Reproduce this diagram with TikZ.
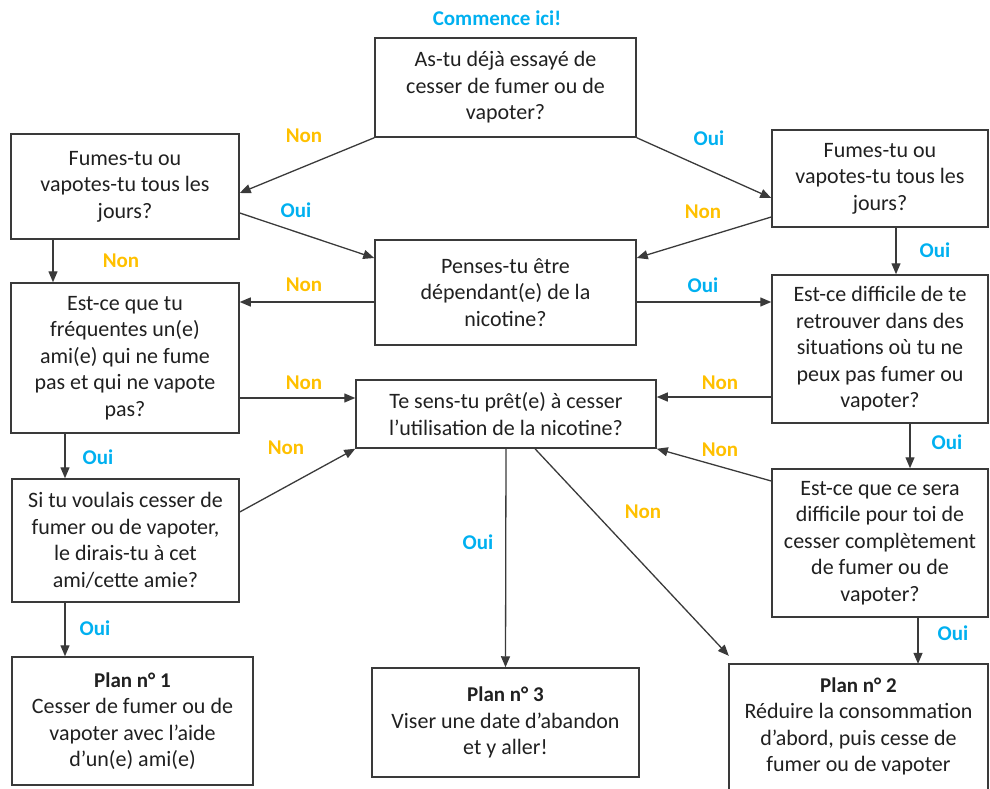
\documentclass[tikz,border=0pt]{standalone}
\usepackage{fontspec}
\setmainfont{Carlito}
\usetikzlibrary{arrows.meta,calc}
\definecolor{ouiblue}{HTML}{00B0F0}
\definecolor{nongold}{HTML}{FFC000}
\definecolor{edgecol}{HTML}{3A3A3A}
\definecolor{txtcol}{HTML}{202020}
\begin{document}
\begin{tikzpicture}[x=1pt,y=-1pt,
  box/.style={draw=edgecol, line width=1.5pt, align=center, inner sep=0pt,
    font=\fontsize{22}{26.5}\selectfont, text=txtcol},
  openbox/.style={align=center, inner sep=0pt,
    font=\fontsize{22}{26.5}\selectfont, text=txtcol},
  conn/.style={draw=edgecol, line width=1.3pt, -{Triangle[length=11pt,width=9pt]}},
  oui/.style={font=\bfseries\fontsize{21}{22}\selectfont, text=ouiblue, inner sep=0pt},
  non/.style={font=\bfseries\fontsize{21}{22}\selectfont, text=nongold, inner sep=0pt}]
\useasboundingbox (0,0) rectangle (990,789);

% boxes
\node[box, minimum width=261pt, minimum height=99pt] (q1) at (505.5,87.5)
  {As-tu déjà essayé de\\cesser de fumer ou de\\vapoter?};
\node[oui, font=\bfseries\fontsize{21}{22}\selectfont] (start) at (497,18) {Commence ici!};
\node[box, minimum width=228pt, minimum height=105pt] (l1) at (125,186.5)
  {Fumes-tu ou\\vapotes-tu tous les\\jours?};
\node[box, minimum width=216pt, minimum height=97pt] (r1) at (880,178.5)
  {Fumes-tu ou\\vapotes-tu tous les\\jours?};
\node[box, minimum width=261pt, minimum height=105pt] (m1) at (505.5,292.5)
  {Penses-tu être\\dépendant(e) de la\\nicotine?};
\node[box, minimum width=228pt, minimum height=150pt] (l2) at (125,358)
  {Est-ce que tu\\fréquentes un(e)\\ami(e) qui ne fume\\pas et qui ne vapote\\pas?};
\node[box, minimum width=216pt, minimum height=148pt] (r2) at (880,349)
  {Est-ce difficile de te\\retrouver dans des\\situations où tu ne\\peux pas fumer ou\\vapoter?};
\node[box, minimum width=300pt, minimum height=68pt] (c) at (506,414)
  {Te sens-tu prêt(e) à cesser\\l’utilisation de la nicotine?};
\node[box, minimum width=227pt, minimum height=123pt] (l3) at (125.5,540.5)
  {Si tu voulais cesser de\\fumer ou de vapoter,\\le dirais-tu à cet\\ami/cette amie?};
\node[box, minimum width=216pt, minimum height=148pt] (r3) at (880,543)
  {Est-ce que ce sera\\difficile pour toi de\\cesser complètement\\de fumer ou de\\vapoter?};
\node[box, minimum width=241pt, minimum height=128pt] (p1) at (132.5,721)
  {{\bfseries\fontsize{21}{26}\selectfont Plan n° 1}\\Cesser de fumer ou de\\vapoter avec l’aide\\d’un(e) ami(e)};
\node[box, minimum width=267pt, minimum height=109pt] (p3) at (505.5,722.5)
  {{\bfseries\fontsize{21}{26}\selectfont Plan n° 3}\\Viser une date d’abandon\\et y aller!};
\node[openbox, minimum width=259pt, minimum height=125pt] (p2) at (858.5,726.5)
  {{\bfseries\fontsize{21}{26}\selectfont Plan n° 2}\\Réduire la consommation\\d’abord, puis cesse de\\fumer ou de vapoter};
\draw[draw=edgecol, line width=1.5pt] (p2.south west) -- (p2.north west) -- (p2.north east) -- (p2.south east);

% connectors
\draw[conn] (q1.south west) -- ([yshift=-6.5pt]l1.east);
\draw[conn] (q1.south east) -- ([yshift=-19.5pt]r1.west);
\draw[conn] ([yshift=-26.5pt]l1.east) -- ([yshift=34.5pt]m1.west);
\draw[conn] ([yshift=-38.5pt]r1.west) -- ([yshift=34.5pt]m1.east);
\draw[conn] ([xshift=-72pt]l1.south) -- ([xshift=-72pt]l2.north);
\draw[conn] ([xshift=16pt]r1.south) -- ([xshift=16pt]r2.north);
\draw[conn] ([yshift=-9.5pt]m1.west) -- ([yshift=56pt]l2.east);
\draw[conn] ([yshift=-9.5pt]m1.east) -- ([yshift=47pt]r2.west);
\draw[conn] ([yshift=-40pt]l2.east) -- ([yshift=16pt]c.west);
\draw[conn] ([yshift=-48pt]r2.west) -- ([yshift=17pt]c.east);
\draw[conn] ([xshift=-60pt]l2.south) -- ([xshift=-60.5pt]l3.north);
\draw[conn] ([xshift=30pt]r2.south) -- ([xshift=30pt]r3.north);
\draw[conn] ([yshift=28.5pt]l3.east) -- (c.south west);
\draw[conn] ([yshift=62pt]r3.west) -- (c.south east);
\draw[conn] ([xshift=-60.5pt]l3.south) -- ([xshift=-67.5pt]p1.north);
\draw[conn] ([xshift=38pt]r3.south) -- ([xshift=59.5pt]p2.north);
\draw[conn] (c.south) -- (p3.north);
\draw[conn] ([xshift=29pt]c.south) -- ([yshift=8pt]p2.north west);

% labels
\node[non] (n1) at (304,136) {Non};
\node[oui] (o1) at (709,138) {Oui};
\node[oui] (o2) at (296,210) {Oui};
\node[non] (n2) at (703,212) {Non};
\node[non] (n3) at (121,261) {Non};
\node[oui] (o3) at (935,250) {Oui};
\node[non] (n4) at (304,285) {Non};
\node[oui] (o4) at (703,285) {Oui};
\node[non] (n5) at (304,383) {Non};
\node[non] (n6) at (720,383) {Non};
\node[oui] (o5) at (98,457) {Oui};
\node[oui] (o6) at (947,442) {Oui};
\node[non] (n7) at (286,448) {Non};
\node[non] (n8) at (720,450) {Non};
\node[oui] (o7) at (95,628) {Oui};
\node[oui] (o8) at (953,633) {Oui};
\node[oui] (o9) at (478,542) {Oui};
\node[non] (n9) at (643,512) {Non};
\end{tikzpicture}
\end{document}
